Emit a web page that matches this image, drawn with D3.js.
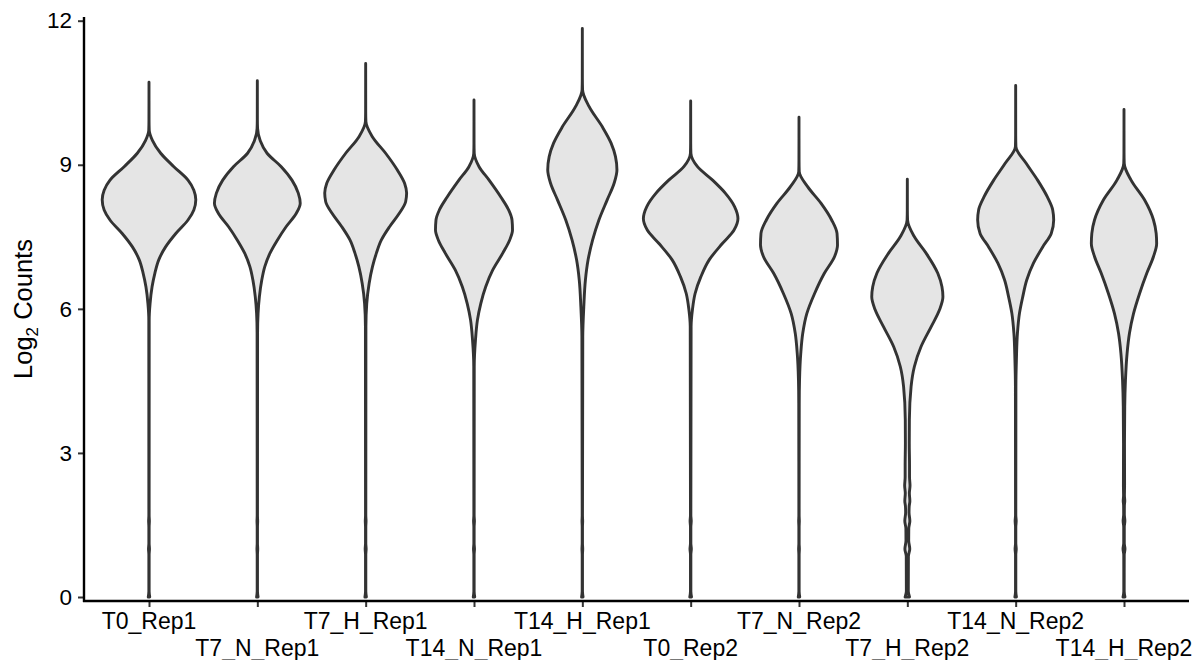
<!DOCTYPE html>
<html>
<head>
<meta charset="utf-8">
<script src="https://cdn.jsdelivr.net/npm/d3@7"></script>
<style>
  html, body { margin: 0; padding: 0; background: #ffffff; }
  svg { display: block; }
  text { font-family: "Liberation Sans", Arial, Helvetica, sans-serif; fill: #000; }
</style>
</head>
<body>
<svg id="chart" width="1202" height="660"></svg>
<script>
// Samples, in plotting order
const categories = ["T0_Rep1", "T7_N_Rep1", "T7_H_Rep1", "T14_N_Rep1", "T14_H_Rep1",
                    "T0_Rep2", "T7_N_Rep2", "T7_H_Rep2", "T14_N_Rep2", "T14_H_Rep2"];

// y-axis ticks (log2 counts)
const yTicks = [0, 3, 6, 9, 12];

// Kernel density profiles per sample: [log2 count, scaled density]
const T0_Rep1 = [[0,0.015],[0.12,0.003],[0.88,0.003],[1,0.01],[1.12,0.003],[1.46,0.003],[1.58,0.008],[1.7,0.003],
  [5.77,0.004],[6.11,0.022],[6.46,0.063],[6.74,0.12],[7.02,0.2],[7.29,0.34],[7.57,0.55],[7.85,0.8],[8.06,0.92],
  [8.27,0.96],[8.47,0.92],[8.68,0.8],[8.96,0.51],[9.24,0.24],[9.51,0.07],[9.72,0.005],[9.93,0.001],[10.72,0]];
const T7_N_Rep1 = [[0,0.015],[0.12,0.003],[0.88,0.003],[1,0.008],[1.12,0.003],[1.46,0.003],[1.58,0.007],[1.7,0.003],
  [5.5,0.005],[5.9,0.015],[6.25,0.042],[6.6,0.091],[6.88,0.153],[7.16,0.26],[7.43,0.41],[7.71,0.59],[7.99,0.8],
  [8.2,0.88],[8.41,0.84],[8.68,0.71],[8.96,0.49],[9.24,0.2],[9.5,0.06],[9.76,0.005],[9.95,0.001],[10.75,0]];
const T7_H_Rep1 = [[0,0.015],[0.12,0.003],[0.88,0.003],[1,0.01],[1.12,0.003],[1.46,0.003],[1.58,0.008],[1.7,0.003],
  [5.63,0.005],[6.11,0.022],[6.53,0.071],[6.88,0.14],[7.16,0.22],[7.43,0.32],[7.71,0.49],[7.99,0.69],[8.23,0.82],
  [8.41,0.84],[8.61,0.8],[8.89,0.65],[9.24,0.41],[9.58,0.14],[9.9,0.005],[10.1,0.001],[11.11,0]];
const T14_N_Rep1 = [[0,0.015],[0.12,0.003],[0.88,0.003],[1,0.01],[1.12,0.003],[1.46,0.003],[1.58,0.009],[1.7,0.003],
  [4.8,0.005],[5.35,0.03],[5.77,0.071],[6.11,0.139],[6.46,0.24],[6.81,0.385],[7.16,0.59],[7.43,0.73],[7.64,0.79],
  [7.85,0.78],[8.06,0.71],[8.33,0.55],[8.68,0.31],[8.96,0.104],[9.24,0.005],[9.45,0.001],[10.35,0]];
const T14_H_Rep1 = [[0,0.015],[0.12,0.003],[0.88,0.003],[1,0.008],[1.12,0.003],[1.46,0.003],[1.58,0.007],[1.7,0.003],
  [5.42,0.009],[6.04,0.03],[6.6,0.063],[7.02,0.118],[7.43,0.21],[7.85,0.34],[8.27,0.51],[8.61,0.65],[8.89,0.71],
  [9.17,0.68],[9.45,0.59],[9.79,0.41],[10.21,0.14],[10.56,0.005],[10.8,0.001],[11.84,0]];
const T0_Rep2 = [[0,0.018],[0.12,0.004],[0.88,0.004],[1,0.014],[1.12,0.004],[1.46,0.004],[1.58,0.012],[1.7,0.004],
  [5.63,0.009],[5.98,0.036],[6.32,0.091],[6.67,0.21],[7.02,0.38],[7.36,0.65],[7.64,0.89],[7.88,0.97],[8.13,0.9],
  [8.41,0.71],[8.68,0.45],[8.96,0.14],[9.24,0.005],[9.45,0.001],[10.33,0]];
const T7_N_Rep2 = [[0,0.015],[0.12,0.003],[0.88,0.003],[1,0.008],[1.12,0.003],[1.46,0.003],[1.58,0.007],[1.7,0.003],
  [4.04,0.005],[4.52,0.011],[5.07,0.036],[5.49,0.077],[5.9,0.16],[6.32,0.32],[6.74,0.52],[7.09,0.73],[7.33,0.79],
  [7.57,0.78],[7.85,0.67],[8.2,0.45],[8.54,0.18],[8.86,0.005],[9.1,0.001],[9.99,0]];
const T7_H_Rep2 = [[0,0.045],[0.12,0.02],[0.85,0.022],[1,0.05],[1.17,0.028],[1.43,0.03],[1.58,0.052],[1.76,0.035],
  [1.88,0.038],[2,0.052],[2.16,0.042],[2.32,0.055],[2.5,0.045],[2.75,0.045],[3.2,0.04],[3.69,0.042],[4.38,0.077],
  [4.8,0.145],[5.21,0.28],[5.63,0.49],[5.98,0.66],[6.25,0.73],[6.46,0.71],[6.74,0.625],[7.16,0.385],[7.5,0.145],
  [7.85,0.005],[8.05,0.001],[8.7,0]];
const T14_N_Rep2 = [[0,0.016],[0.12,0.003],[0.88,0.003],[1,0.012],[1.12,0.003],[1.46,0.003],[1.58,0.011],[1.7,0.003],
  [4.38,0.005],[4.93,0.015],[5.49,0.036],[5.9,0.077],[6.25,0.145],[6.6,0.227],[6.95,0.365],[7.29,0.555],[7.57,0.73],
  [7.85,0.78],[8.06,0.76],[8.33,0.65],[8.68,0.45],[9.03,0.215],[9.38,0.005],[9.6,0.001],[10.65,0]];
const T14_H_Rep2 = [[0,0.02],[0.12,0.004],[0.88,0.005],[1,0.02],[1.12,0.006],[1.46,0.006],[1.58,0.018],[1.72,0.007],
  [1.9,0.008],[2,0.016],[2.12,0.009],[2.32,0.012],[3.2,0.01],[3.96,0.015],[4.52,0.03],[5.07,0.063],[5.49,0.112],
  [5.9,0.195],[6.32,0.32],[6.74,0.467],[7.09,0.605],[7.36,0.67],[7.57,0.66],[7.85,0.605],[8.27,0.42],[8.68,0.145],
  [9.03,0.005],[9.25,0.001],[10.15,0]];

const profiles = [T0_Rep1, T7_N_Rep1, T7_H_Rep1, T14_N_Rep1, T14_H_Rep1,
                  T0_Rep2, T7_N_Rep2, T7_H_Rep2, T14_N_Rep2, T14_H_Rep2];

const svg = d3.select("#chart");

// Panel geometry
const panel = { left: 84, right: 1189, top: 17, bottom: 601 };

const x = d3.scalePoint()
  .domain(categories)
  .range([panel.left, panel.right])
  .padding(0.6);

const y = d3.scaleLinear()
  .domain([0, 12])
  .range([597, 20.7]);

// Half-width of a violin: full density maps to 45% of the category step
const halfWidth = d3.scaleLinear()
  .domain([0, 1])
  .range([0, 0.45 * x.step()]);

// Violins
const violins = svg.append("g");
categories.forEach((cat, i) => {
  const cx = x(cat);
  const area = d3.area()
    .curve(d3.curveMonotoneY)
    .y(d => y(d[0]))
    .x0(d => cx - halfWidth(d[1]))
    .x1(d => cx + halfWidth(d[1]));
  violins.append("path")
    .datum(profiles[i])
    .attr("d", area)
    .attr("fill", "#e5e5e5")
    .attr("stroke", "#333333")
    .attr("stroke-width", 2.9)
    .attr("stroke-linejoin", "round");
});

// Y axis
const yAxis = svg.append("g")
  .attr("transform", `translate(${panel.left},0)`)
  .call(d3.axisLeft(y).tickValues(yTicks).tickFormat(d3.format("d")).tickSize(6).tickPadding(6));
yAxis.select(".domain").remove();
yAxis.selectAll(".tick line").attr("stroke", "#333").attr("stroke-width", 2);
yAxis.selectAll(".tick text").style("font-size", "22.5px").attr("fill", "#000");
svg.append("line")
  .attr("x1", panel.left).attr("x2", panel.left)
  .attr("y1", panel.top).attr("y2", panel.bottom + 1)
  .attr("stroke", "#000").attr("stroke-width", 2.4);

// X axis with labels dodged over two rows
const xAxis = svg.append("g")
  .attr("transform", `translate(0,${panel.bottom})`)
  .call(d3.axisBottom(x).tickSize(6).tickFormat(""));
xAxis.select(".domain").remove();
xAxis.selectAll(".tick line").attr("stroke", "#333").attr("stroke-width", 2);
svg.append("line")
  .attr("x1", panel.left - 1).attr("x2", panel.right)
  .attr("y1", panel.bottom).attr("y2", panel.bottom)
  .attr("stroke", "#000").attr("stroke-width", 2.4);

svg.append("g").selectAll("text")
  .data(categories)
  .join("text")
  .attr("x", d => x(d))
  .attr("y", (d, i) => i % 2 === 0 ? 629 : 656)
  .attr("text-anchor", "middle")
  .style("font-size", "23px")
  .text(d => d);

// Y axis title: Log2 Counts
const yTitle = svg.append("text")
  .attr("transform", `translate(32,${(panel.top + panel.bottom) / 2}) rotate(-90)`)
  .attr("text-anchor", "middle")
  .style("font-size", "25.5px");
yTitle.append("tspan").text("Log");
yTitle.append("tspan").attr("dy", 6).style("font-size", "17px").text("2");
yTitle.append("tspan").attr("dy", -6).text(" Counts");
</script>
</body>
</html>
